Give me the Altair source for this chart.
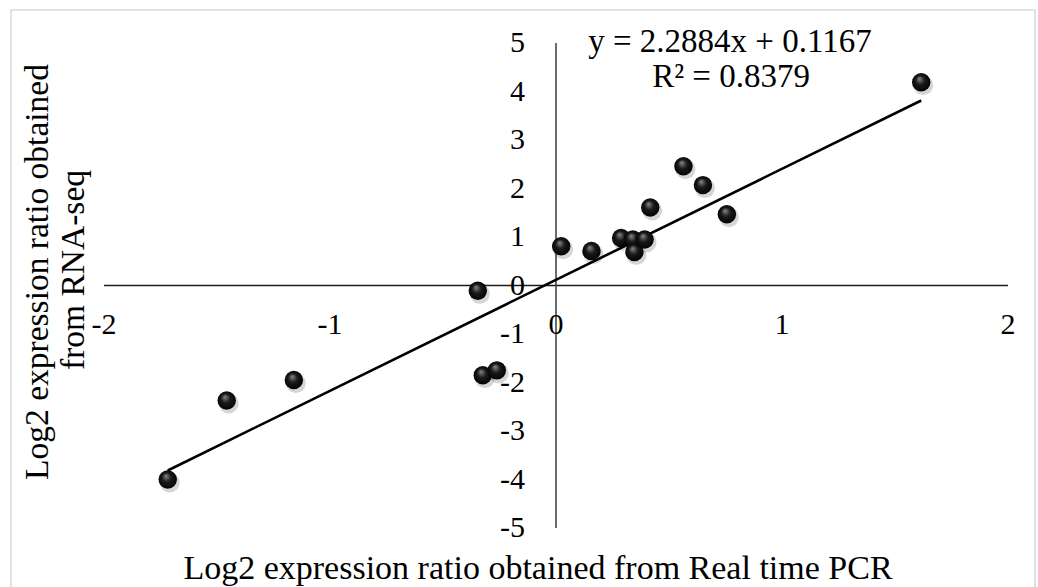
import altair as alt
import pandas as pd

# ---- data ----
qpcr = [1.616, 0.023, 0.157, 0.288, 0.340, 0.347, 0.392, 0.417, 0.564, 0.650,
        0.756, -0.346, -1.718, -1.457, -1.160, -0.324, -0.262]
rnaseq = [4.19, 0.81, 0.71, 0.98, 0.95, 0.69, 0.95, 1.61, 2.46, 2.07,
          1.47, -0.11, -4.00, -2.37, -1.95, -1.85, -1.75]
x_ticks = [-2, -1, 0, 1, 2]
y_ticks = [-5, -4, -3, -2, -1, 0, 1, 2, 3, 4, 5]
slope = 2.2884
intercept = 0.1167
r_squared = 0.8379
x_title = "Log2 expression ratio obtained from Real time PCR"
y_title = ["Log2 expression ratio obtained", "from RNA-seq"]

FONT = "Liberation Serif"
W, H = 904, 485
PAD_L, PAD_T = 104, 43

xs = alt.Scale(domain=[min(x_ticks), max(x_ticks)], nice=False, zero=False)
ys = alt.Scale(domain=[min(y_ticks), max(y_ticks)], nice=False, zero=False)

pts = pd.DataFrame({"qpcr": qpcr, "rnaseq": rnaseq})
one = pd.DataFrame({"k": [0]})

# chart-area border
border = alt.Chart(one).mark_rect(
    fill="white", fillOpacity=0, stroke="#d9d9d9", strokeWidth=1.5
).encode(
    x=alt.value(11 - PAD_L), x2=alt.value(1035 - PAD_L),
    y=alt.value(10 - PAD_T), y2=alt.value(600 - PAD_T)
)

hline = alt.Chart(pd.DataFrame({"x": [min(x_ticks)], "x2": [max(x_ticks)], "y": [0]})).mark_rule(
    color="#1a1a1a", strokeWidth=1.6
).encode(
    x=alt.X("x:Q", scale=xs, axis=None), x2="x2:Q",
    y=alt.Y("y:Q", scale=ys, axis=None)
)
vline = alt.Chart(pd.DataFrame({"x": [0], "y": [min(y_ticks)], "y2": [max(y_ticks)]})).mark_rule(
    color="#3a3a3a", strokeWidth=1.5
).encode(
    x=alt.X("x:Q", scale=xs, axis=None),
    y=alt.Y("y:Q", scale=ys, axis=None), y2="y2:Q"
)

xlab = alt.Chart(pd.DataFrame({"v": x_ticks, "zero": [0] * len(x_ticks),
                               "t": [str(v) for v in x_ticks]})).mark_text(
    font=FONT, fontSize=30, color="black", align="center", baseline="middle", dy=39
).encode(
    x=alt.X("v:Q", scale=xs, axis=None), y=alt.Y("zero:Q", scale=ys, axis=None), text="t:N"
)
ylab = alt.Chart(pd.DataFrame({"v": y_ticks, "zero": [0] * len(y_ticks),
                               "t": [str(v) for v in y_ticks]})).mark_text(
    font=FONT, fontSize=30, color="black", align="right", baseline="middle", dx=-31
).encode(
    x=alt.X("zero:Q", scale=xs, axis=None), y=alt.Y("v:Q", scale=ys, axis=None), text="t:N"
)

base = alt.Chart(pts).encode(
    x=alt.X("qpcr:Q", scale=xs, axis=None),
    y=alt.Y("rnaseq:Q", scale=ys, axis=None),
)
shadow = base.mark_circle(size=400, color="#000000", opacity=0.16, xOffset=2, yOffset=3)
dots = base.mark_circle(
    size=340, opacity=1,
    fill=alt.Gradient(
        gradient="radial",
        stops=[alt.GradientStop(color="#8a8a8a", offset=0),
               alt.GradientStop(color="#1a1a1a", offset=0.45),
               alt.GradientStop(color="#000000", offset=1)],
        x1=0.4, y1=0.3, r1=0, x2=0.5, y2=0.5, r2=0.55,
    ),
)

tx = [min(qpcr), max(qpcr)]
trend_df = pd.DataFrame({"x": tx, "y": [slope * v + intercept for v in tx]})
trend = alt.Chart(trend_df).mark_line(color="black", strokeWidth=2.6).encode(
    x=alt.X("x:Q", scale=xs, axis=None), y=alt.Y("y:Q", scale=ys, axis=None)
)

eq1 = alt.Chart(one).mark_text(
    font=FONT, fontSize=33, color="black", align="center", baseline="alphabetic"
).encode(x=alt.value(730 - PAD_L), y=alt.value(52 - PAD_T),
         text=alt.value(f"y = {slope}x + {intercept}"))
eq2 = alt.Chart(one).mark_text(
    font=FONT, fontSize=33, color="black", align="center", baseline="alphabetic"
).encode(x=alt.value(731 - PAD_L), y=alt.value(87 - PAD_T),
         text=alt.value(f"R² = {r_squared}"))

xt = alt.Chart(one).mark_text(
    font=FONT, fontSize=34, color="black", align="center", baseline="alphabetic"
).encode(x=alt.value(538 - PAD_L), y=alt.value(579 - PAD_T), text=alt.value(x_title))
yt1 = alt.Chart(one).mark_text(
    font=FONT, fontSize=33.5, color="black", align="center", baseline="alphabetic", angle=270
).encode(x=alt.value(48 - PAD_L), y=alt.value(272 - PAD_T), text=alt.value(y_title[0]))
yt2 = alt.Chart(one).mark_text(
    font=FONT, fontSize=33.5, color="black", align="center", baseline="alphabetic", angle=270
).encode(x=alt.value(84 - PAD_L), y=alt.value(270 - PAD_T), text=alt.value(y_title[1]))

chart = alt.layer(
    border, hline, vline, xlab, ylab, trend, shadow, dots, eq1, eq2, xt, yt1, yt2
).properties(
    width=W, height=H,
    padding={"left": PAD_L, "top": PAD_T, "right": 1038 - PAD_L - W, "bottom": 587 - PAD_T - H},
    autosize=alt.AutoSizeParams(type="none"),
    background="white",
).configure_view(strokeOpacity=0)

chart.save("out.html", embed_options={"renderer": "svg", "actions": False})
